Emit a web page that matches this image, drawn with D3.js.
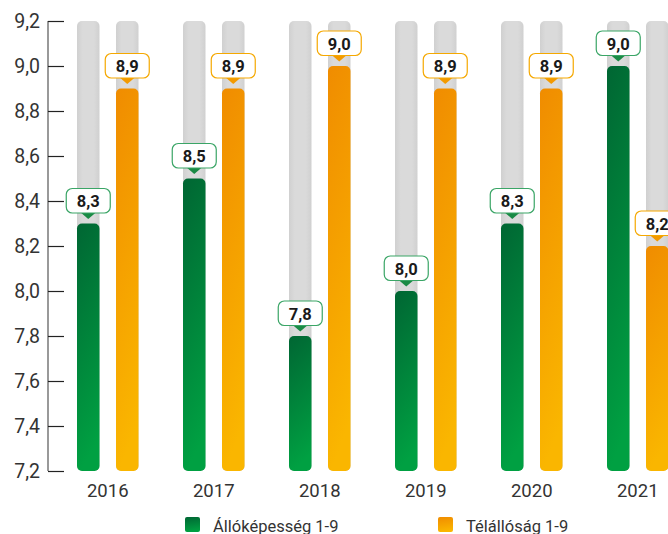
<!DOCTYPE html>
<html><head><meta charset="utf-8">
<script src="https://cdn.jsdelivr.net/npm/d3@7"></script>
<style>body{margin:0;background:#fff}svg{display:block}text{font-family:Roboto,"Liberation Sans",sans-serif}</style>
</head><body>
<script>
const years = ["2016","2017","2018","2019","2020","2021"];
const seriesNames = ["Állóképesség 1-9","Télállóság 1-9"];
const allokepesseg = [8.3, 8.5, 7.8, 8.0, 8.3, 9.0];
const telallosag = [8.9, 8.9, 9.0, 8.9, 8.9, 8.2];
const yTicks = [7.2, 7.4, 7.6, 7.8, 8.0, 8.2, 8.4, 8.6, 8.8, 9.0, 9.2];

const W = 668, H = 534;
const svg = d3.select("body").append("svg").attr("width", W).attr("height", H);
const defs = svg.append("defs");
function grad(id, top, bottom){
  const g = defs.append("linearGradient").attr("id", id).attr("x1",0).attr("y1",0).attr("x2",0.15).attr("y2",1);
  g.append("stop").attr("offset","0%").attr("stop-color",top);
  g.append("stop").attr("offset","100%").attr("stop-color",bottom);
}
grad("gG", "#006633", "#00a042");
grad("gO", "#f08c00", "#fab600");
const gg = defs.append("linearGradient").attr("id","gGrey").attr("x1",0).attr("x2",1).attr("y1",0).attr("y2",0);
gg.append("stop").attr("offset","0%").attr("stop-color","#d0d0d0");
gg.append("stop").attr("offset","25%").attr("stop-color","#dadada");
gg.append("stop").attr("offset","75%").attr("stop-color","#dadada");
gg.append("stop").attr("offset","100%").attr("stop-color","#d0d0d0");

const y = d3.scaleLinear().domain([7.2, 9.2]).range([471, 21]);
const x = d3.scalePoint().domain(years).range([107.75, 637.75]);
const sub = d3.scalePoint().domain(seriesNames).range([-19.5, 19.5]);
const bw = 22.5;
const fmt = v => d3.format(".1f")(v).replace(".", ",");

// axis
const ax = svg.append("g").attr("transform","translate(48,0)")
  .call(d3.axisRight(y).tickValues(yTicks).tickSize(16).tickFormat(""));
ax.select(".domain").attr("stroke","#555").attr("stroke-width",1.2).attr("d","M0,21V471");
ax.selectAll(".tick line").attr("stroke","#222").attr("stroke-width",1.2);
svg.append("g").selectAll("text").data(yTicks).join("text")
  .attr("x", 40).attr("y", d => y(d) + 7).attr("text-anchor","end")
  .attr("font-size", 19.5).attr("fill","#333").text(fmt);

const series = [
  {name: seriesNames[0], values: allokepesseg, fill: "url(#gG)", border: "#3aa566", tip: "#1a8a45"},
  {name: seriesNames[1], values: telallosag, fill: "url(#gO)", border: "#f5a800", tip: "#f39a00"}
];

series.forEach(s => {
  const g = svg.append("g");
  const cx = (d,i) => x(years[i]) + sub(s.name);
  g.selectAll("rect.bg").data(s.values).join("rect").attr("class","bg")
    .attr("x",(d,i)=>cx(d,i)-bw/2).attr("width",bw)
    .attr("y", y(9.2)).attr("height", y(7.2)-y(9.2)).attr("rx",5)
    .attr("fill","url(#gGrey)");
  g.selectAll("rect.v").data(s.values).join("rect").attr("class","v")
    .attr("x",(d,i)=>cx(d,i)-bw/2).attr("width",bw)
    .attr("y", d=>y(d)).attr("height", d=>y(7.2)-y(d)).attr("rx",5)
    .attr("fill", s.fill);
  const lab = g.selectAll("g.lab").data(s.values).join("g").attr("class","lab")
    .attr("transform",(d,i)=>`translate(${cx(d,i)},${y(d)})`);
  lab.append("path").attr("d","M-7,-10.5L7,-10.5L0,-4.5Z").attr("fill", s.tip);
  lab.append("rect").attr("x",-22).attr("y",-35).attr("width",44).attr("height",24.5).attr("rx",6)
    .attr("fill","#fff").attr("stroke", s.border).attr("stroke-width",1.2);
  lab.append("text").attr("y",-16.5).attr("text-anchor","middle").attr("font-size",16.5)
    .attr("font-weight","bold").attr("fill","#1a1a1a").text(fmt);
});

svg.append("g").selectAll("text").data(years).join("text")
  .attr("x", d=>x(d)).attr("y", 497).attr("text-anchor","middle")
  .attr("font-size",18.5).attr("fill","#333").text(d=>d);

const leg = [{name: seriesNames[0], fill:"url(#gG)", x:185},{name: seriesNames[1], fill:"url(#gO)", x:438}];
const lg = svg.append("g").selectAll("g").data(leg).join("g").attr("transform",d=>`translate(${d.x},517)`);
lg.append("rect").attr("width",15).attr("height",15).attr("rx",2).attr("fill",d=>d.fill);
lg.append("text").attr("x",28).attr("y",14.5).attr("font-size",16.5).attr("fill","#333").text(d=>d.name);
</script>
</body></html>
